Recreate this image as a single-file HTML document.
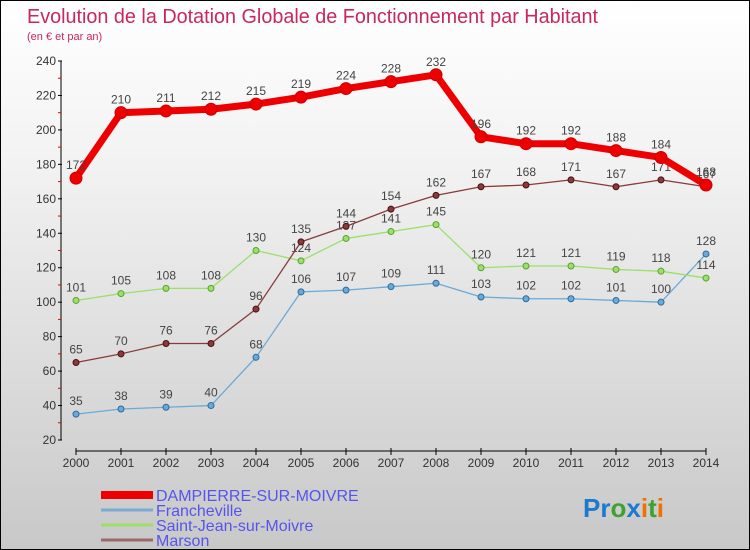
<!DOCTYPE html>
<html><head><meta charset="utf-8"><style>
body{margin:0}
#c{width:748px;height:548px;border:1px solid #000;background:linear-gradient(#fff,#f2f2f2 30%,#c8c8c8);position:relative;overflow:hidden;font-family:"Liberation Sans","DejaVu Sans",sans-serif}
</style></head><body>
<div id="c">
<svg id="s" width="748" height="548" xmlns="http://www.w3.org/2000/svg"></svg>
</div>
<script>
const years=[2000,2001,2002,2003,2004,2005,2006,2007,2008,2009,2010,2011,2012,2013,2014];
const dampierre=[172,210,211,212,215,219,224,228,232,196,192,192,188,184,168];
const francheville=[35,38,39,40,68,106,107,109,111,103,102,102,101,100,128];
const saintJean=[101,105,108,108,130,124,137,141,145,120,121,121,119,118,114];
const marson=[65,70,76,76,96,135,144,154,162,167,168,171,167,171,167];
const yTicks=[20,40,60,80,100,120,140,160,180,200,220,240];
const seriesNames=["DAMPIERRE-SUR-MOIVRE","Francheville","Saint-Jean-sur-Moivre","Marson"];
const NS="http://www.w3.org/2000/svg",s=document.getElementById('s');
const X=i=>75+i*45, Y=v=>60+(240-v)*379/220;
function el(t,a,txt){const e=document.createElementNS(NS,t);for(const k in a)e.setAttribute(k,a[k]);if(txt!==undefined)e.textContent=txt;s.appendChild(e);return e;}
let e;
e=el('text',{x:26,y:22,fill:'#c8285a','font-size':20,textLength:571,lengthAdjust:'spacingAndGlyphs'},'Evolution de la Dotation Globale de Fonctionnement par Habitant');

e=el('text',{x:26,y:39,fill:'#c8285a','font-size':11},'(en € et par an)');

e=el('line',{x1:60,y1:Y(240),x2:60,y2:Y(20),stroke:'#000'});

yTicks.forEach(v=>{el('line',{x1:57,x2:61,y1:Y(v),y2:Y(v),stroke:'#000'});
 if(v<240)el('line',{x1:57,x2:60,y1:Y(v+10),y2:Y(v+10),stroke:'#e00'});
 e=el('text',{x:55,y:Y(v)+4,'text-anchor':'end','font-size':12,fill:'#333'},v);
 });
e=el('line',{x1:X(0),y1:450,x2:X(14),y2:450,stroke:'#000'});

years.forEach((y,i)=>{el('line',{x1:X(i),x2:X(i),y1:447,y2:454,stroke:'#000'});
 e=el('text',{x:X(i),y:466,'text-anchor':'middle','font-size':12,fill:'#333'},y);
 });
function series(d,col,dark,w,r,name){
 e=el('polyline',{points:d.map((v,i)=>X(i)+','+Y(v)).join(' '),fill:'none',stroke:col,'stroke-width':w,'stroke-linejoin':'round'});
 
 d.forEach((v,i)=>{e=el('circle',{cx:X(i),cy:Y(v),r:r,fill:col,stroke:dark,'stroke-width':1});
  
  e=el('text',{x:X(i),y:Y(v)-9,'text-anchor':'middle','font-size':12,fill:'#444'},v);
  });
}
series(francheville,'#6aaad8','#2a6aa0',1.3,3,'francheville');
series(saintJean,'#9be06a','#5aa030',1.3,3,'saint-jean');
series(marson,'#8a3a3a','#4a1010',1.3,3,'marson');
series(dampierre,'#ee0000','#cc0000',7,6,'dampierre');
const cols=['#ee0000','#7aaad0','#9be06a','#9a6a6a'],ws=[8,3,3,3];
seriesNames.forEach((n,i)=>{const y=494+i*15;
 e=el('line',{x1:100,x2:152,y1:y,y2:y,stroke:cols[i],'stroke-width':ws[i]});
 
 e=el('text',{x:155,y:y+6,'font-size':16,fill:'#5555ee'},n);
 });
e=el('text',{x:582,y:516,'font-size':26,'font-weight':'bold'});

[['Pr','#1a7ad0'],['o','#40a030'],['x','#1a7ad0'],['i','#f07000'],['t','#40a030'],['i','#f07000']].forEach(([t,c])=>{const sp=document.createElementNS(NS,'tspan');sp.setAttribute('fill',c);sp.textContent=t;e.appendChild(sp);});
</script>
</body></html>
